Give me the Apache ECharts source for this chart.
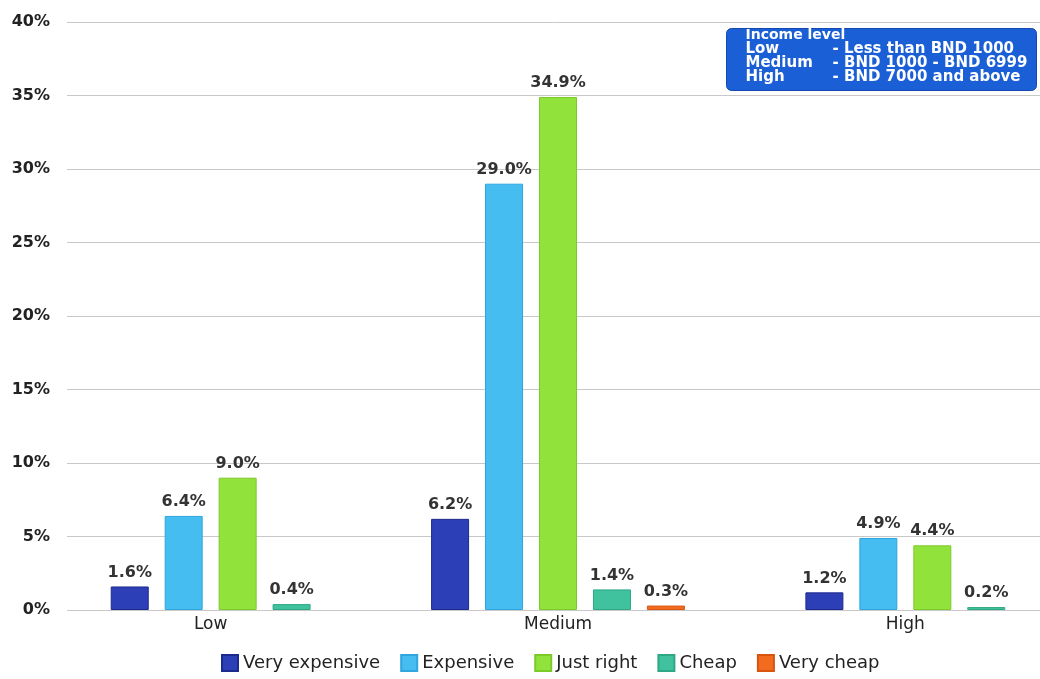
<!DOCTYPE html>
<html>
<head>
<meta charset="utf-8">
<script src="https://cdn.jsdelivr.net/npm/echarts@6/dist/echarts.min.js"></script>
<style>
html,body{margin:0;padding:0;background:#fff;}
#chart{width:1040px;height:679px;}
</style>
</head>
<body>
<div id="chart"></div>
<script>
// ---- data ----
var categories = ['Low', 'Medium', 'High'];
var seriesNames = ['Very expensive', 'Expensive', 'Just right', 'Cheap', 'Very cheap'];
var veryExpensive = [1.6, 6.2, 1.2];
var expensive = [6.4, 29.0, 4.9];
var justRight = [9.0, 34.9, 4.4];
var cheap = [0.4, 1.4, 0.2];
var veryCheap = [null, 0.3, null];
var yTicks = [0, 5, 10, 15, 20, 25, 30, 35, 40];
var infoTitle = 'Income level';
var infoLevels = ['Low', 'Medium', 'High'];
var infoRanges = ['- Less than BND 1000', '- BND 1000 - BND 6999', '- BND 7000 and above'];

var colors = ['#2d3fb6', '#46bdf0', '#92e23c', '#3fc29d', '#f26b1f'];
var borders = ['#1b2a8c', '#2fa6dd', '#7cc92a', '#2ea884', '#d85510'];
var allValues = [veryExpensive, expensive, justRight, cheap, veryCheap];

var FONT = 'DejaVu Sans';
var chart = echarts.init(document.getElementById('chart'));

// categories where the last series is missing use a 4-slot axis (0), others 5-slot axis (1)
function hasAll(ci) { return allValues.every(function (a) { return a[ci] != null; }); }

var series = [];
allValues.forEach(function (vals, si) {
  [0, 1].forEach(function (axisIdx) {
    if (axisIdx === 0 && si === 4) return;
    var d = vals.map(function (v, ci) {
      var full = hasAll(ci);
      if ((axisIdx === 1) === full) return v;
      return null;
    });
    series.push({
      name: seriesNames[si],
      type: 'bar',
      xAxisIndex: axisIdx,
      yAxisIndex: 0,
      data: d,
      barWidth: 38,
      barGap: '42%',
      itemStyle: { color: colors[si], borderColor: borders[si], borderWidth: 1 },
      label: {
        show: true, position: 'top', distance: 6,
        fontFamily: FONT, fontSize: 16, fontWeight: 'bold', color: '#333',
        formatter: function (p) { return p.value == null ? '' : p.value.toFixed(1) + '%'; }
      }
    });
  });
});

var option = {
  animation: false,
  backgroundColor: '#fff',
  color: colors,
  legend: {
    data: seriesNames,
    bottom: 2,
    left: 216,
    itemWidth: 16, itemHeight: 16, itemGap: 20,
    icon: 'rect',
    textStyle: { fontFamily: FONT, fontSize: 18, color: '#222' }
  },
  grid: [
    { left: 37, width: 1042, top: 22, height: 588, containLabel: false, outerBoundsMode: 'none' },
    { left: 67, right: 0, top: 22, bottom: 69, containLabel: false, outerBoundsMode: 'none' }
  ],
  xAxis: [
    { type: 'category', data: categories, gridIndex: 0,
      axisLine: { show: false }, axisTick: { show: false },
      axisLabel: { fontFamily: FONT, fontSize: 17, color: '#222', margin: 6 } },
    { type: 'category', data: categories, gridIndex: 0, position: 'bottom',
      axisLine: { show: false }, axisTick: { show: false }, axisLabel: { show: false } },
    { type: 'category', data: categories, gridIndex: 1, show: false }
  ],
  yAxis: [
    { type: 'value', gridIndex: 0, min: 0, max: 40, interval: 5, show: false },
    { type: 'value', gridIndex: 1, min: yTicks[0], max: yTicks[yTicks.length - 1], interval: 5,
      axisLine: { show: false }, axisTick: { show: false },
      splitLine: { lineStyle: { color: '#c8c8c8', width: 1 } },
      axisLabel: { fontFamily: FONT, fontSize: 16, fontWeight: 'bold', color: '#222', margin: 17,
        formatter: function (v) { return v + '%'; } } }
  ],
  series: series,
  graphic: [
    {
      type: 'group', left: 726, top: 28,
      children: [
        { type: 'rect', shape: { x: 0, y: 0, width: 310, height: 62, r: 5 },
          style: { fill: '#1b5fd6', stroke: '#1548b0', lineWidth: 1 } },
        { type: 'text', left: 19, top: 0,
          style: { text: infoTitle, fill: '#fff', font: 'bold 14px "' + FONT + '"' } },
        { type: 'text', left: 19, top: 13,
          style: { text: infoLevels.join('\n'), fill: '#fff', font: 'bold 15px "' + FONT + '"', lineHeight: 14 } },
        { type: 'text', left: 106, top: 13,
          style: { text: infoRanges.join('\n'), fill: '#fff', font: 'bold 15px "' + FONT + '"', lineHeight: 14 } }
      ]
    }
  ]
};
chart.setOption(option);
</script>
</body>
</html>
